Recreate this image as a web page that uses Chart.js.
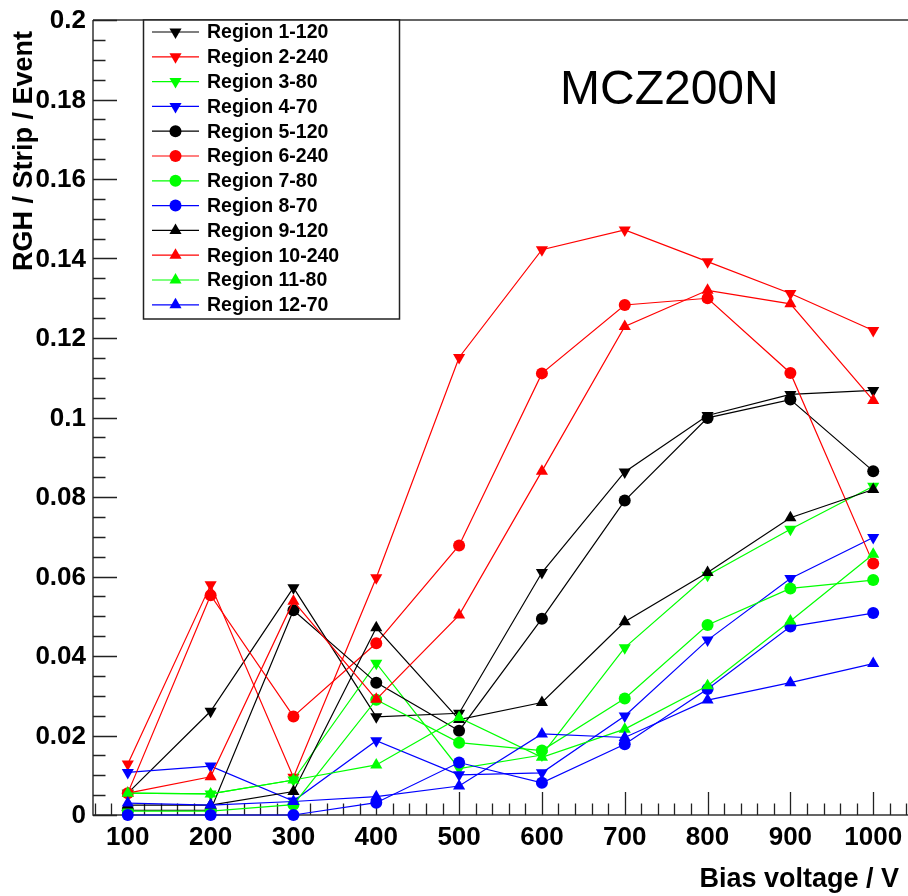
<!DOCTYPE html>
<html>
<head>
<meta charset="utf-8">
<script src="https://cdn.jsdelivr.net/npm/chart.js@4/dist/chart.umd.min.js"></script>
<style>
  html, body { margin: 0; padding: 0; background: #ffffff; }
  #wrap { width: 908px; height: 896px; position: relative; }
</style>
</head>
<body>
<div id="wrap"><canvas id="c" width="908" height="896"></canvas></div>
<script>
// Bias voltage points (V)
const biasVoltages = [100, 200, 300, 400, 500, 600, 700, 800, 900, 1000];

// RGH / Strip / Event for each region
const region1  = [0.0055, 0.0261, 0.0572, 0.0247, 0.0256, 0.0610, 0.0863, 0.1005, 0.1058, 0.1068];
const region2  = [0.0128, 0.0579, 0.0095, 0.0597, 0.1151, 0.1422, 0.1472, 0.1392, 0.1312, 0.1219];
const region3  = [0.0055, 0.0053, 0.0088, 0.0382, 0.0117, 0.0151, 0.0421, 0.0603, 0.0719, 0.0827];
const region4  = [0.0107, 0.0123, 0.0035, 0.0187, 0.0101, 0.0106, 0.0249, 0.0440, 0.0595, 0.0698];
const region5  = [0.0012, 0.0012, 0.0515, 0.0333, 0.0212, 0.0494, 0.0791, 0.0999, 0.1045, 0.0865];
const region6  = [0.0055, 0.0553, 0.0248, 0.0432, 0.0678, 0.1111, 0.1283, 0.1300, 0.1112, 0.0633];
const region7  = [0.0010, 0.0010, 0.0026, 0.0290, 0.0182, 0.0162, 0.0293, 0.0478, 0.0570, 0.0591];
const region8  = [0.0000, 0.0000, 0.0000, 0.0031, 0.0132, 0.0081, 0.0178, 0.0317, 0.0474, 0.0508];
const region9  = [0.0025, 0.0025, 0.0059, 0.0471, 0.0240, 0.0283, 0.0486, 0.0610, 0.0748, 0.0819];
const region10 = [0.0055, 0.0096, 0.0538, 0.0291, 0.0503, 0.0865, 0.1229, 0.1320, 0.1286, 0.1043];
const region11 = [0.0055, 0.0053, 0.0088, 0.0126, 0.0245, 0.0145, 0.0216, 0.0325, 0.0488, 0.0656];
const region12 = [0.0030, 0.0025, 0.0034, 0.0046, 0.0073, 0.0204, 0.0195, 0.0289, 0.0333, 0.0381];

const seriesNames = ["Region 1-120", "Region 2-240", "Region 3-80", "Region 4-70",
                     "Region 5-120", "Region 6-240", "Region 7-80", "Region 8-70",
                     "Region 9-120", "Region 10-240", "Region 11-80", "Region 12-70"];
const seriesValues = [region1, region2, region3, region4, region5, region6,
                      region7, region8, region9, region10, region11, region12];

// Axis tick labels
const xTickLabels = ["100", "200", "300", "400", "500", "600", "700", "800", "900", "1000"];
const yTickLabels = ["0", "0.02", "0.04", "0.06", "0.08", "0.1", "0.12", "0.14", "0.16", "0.18", "0.2"];

const xTitle = "Bias voltage / V";
const yTitle = "RGH / Strip / Event";
const sampleName = "MCZ200N";

// Styling: colour cycles black/red/green/blue, marker cycles down-triangle/circle/up-triangle
const palette = ["#000000", "#ff0000", "#00ff00", "#0000ff"];
function markerFor(i) {
  const g = Math.floor(i / 4);
  if (g === 0) return { style: "triangle", rot: 180, r: 7 };
  if (g === 1) return { style: "circle", rot: 0, r: 6 };
  return { style: "triangle", rot: 0, r: 7 };
}

const datasets = seriesValues.map((vals, i) => {
  const m = markerFor(i);
  const col = palette[i % 4];
  return {
    label: seriesNames[i],
    data: vals.map((v, k) => ({ x: biasVoltages[k], y: v })),
    borderColor: col,
    backgroundColor: col,
    borderWidth: 1.2,
    pointStyle: m.style,
    pointRotation: m.rot,
    pointRadius: m.r,
    pointBorderWidth: 0,
    pointBackgroundColor: col,
    pointBorderColor: col,
    tension: 0,
    clip: false,
    order: seriesValues.length - i
  };
});

const FONT = "'Liberation Sans', Arial, sans-serif";

// Frame, inward tick marks, tick labels, titles and the boxed legend
const framePlugin = {
  id: "frame",
  beforeDatasetsDraw(chart) {
    const ctx = chart.ctx;
    const a = chart.chartArea;
    const xs = chart.scales.x, ys = chart.scales.y;
    ctx.save();
    ctx.strokeStyle = "#333333";
    ctx.lineWidth = 1.5;
    ctx.beginPath();
    ctx.moveTo(a.left, a.top); ctx.lineTo(a.left, a.bottom); ctx.lineTo(a.right, a.bottom);
    ctx.moveTo(a.left, a.top); ctx.lineTo(a.right, a.top);
    ctx.stroke();

    ctx.lineWidth = 1.3;
    ctx.strokeStyle = "#222222";
    ctx.beginPath();
    // x minor ticks every 20 V, major every 100 V
    for (let v = 60; v <= xs.max; v += 20) {
      const px = Math.round(xs.getPixelForValue(v)) + 0.5;
      const major = v % 100 === 0;
      ctx.moveTo(px, a.bottom);
      ctx.lineTo(px, a.bottom - (major ? 23 : 11.5));
    }
    // y minor ticks every 0.005, major every 0.02
    for (let k = 0; k <= 40; k++) {
      const v = k * 0.005;
      const py = Math.round(ys.getPixelForValue(v)) + 0.5;
      const major = k % 4 === 0;
      ctx.moveTo(a.left, py);
      ctx.lineTo(a.left + (major ? 24 : 12.5), py);
    }
    ctx.stroke();

    // tick labels
    ctx.fillStyle = "#000000";
    ctx.font = "bold 26px " + FONT;
    ctx.textAlign = "center";
    ctx.textBaseline = "alphabetic";
    xs.ticks.forEach((t, i) => {
      ctx.fillText(xTickLabels[i], xs.getPixelForValue(t.value), 845);
    });
    ctx.textAlign = "right";
    ctx.textBaseline = "middle";
    ys.ticks.forEach((t, i) => {
      ctx.fillText(yTickLabels[i], 86, ys.getPixelForValue(t.value) + 1);
    });

    // axis titles
    ctx.font = "bold 27px " + FONT;
    ctx.textAlign = "right";
    ctx.textBaseline = "alphabetic";
    ctx.fillText(xTitle, 899, 887);
    ctx.save();
    ctx.translate(32, 31);
    ctx.rotate(-Math.PI / 2);
    ctx.textAlign = "right";
    ctx.fillText(yTitle, 0, 0);
    ctx.restore();

    // sample name
    ctx.font = "48px " + FONT;
    ctx.textAlign = "left";
    ctx.fillText(sampleName, 560, 104);
    ctx.restore();
  },
  afterDraw(chart) {
    const ctx = chart.ctx;
    const box = { l: 143.5, t: 20, r: 399.5, b: 319 };
    ctx.save();
    ctx.fillStyle = "#ffffff";
    ctx.fillRect(box.l, box.t, box.r - box.l, box.b - box.t);
    ctx.strokeStyle = "#222222";
    ctx.lineWidth = 1.5;
    ctx.strokeRect(box.l, box.t, box.r - box.l, box.b - box.t);
    ctx.font = "bold 19.5px " + FONT;
    ctx.textAlign = "left";
    ctx.textBaseline = "middle";
    chart.data.datasets.forEach((ds, i) => {
      const cy = 32 + i * 24.8;
      ctx.strokeStyle = ds.borderColor;
      ctx.lineWidth = 1.2;
      ctx.beginPath();
      ctx.moveTo(152, cy); ctx.lineTo(199, cy);
      ctx.stroke();
      ctx.fillStyle = ds.pointBackgroundColor;
      Chart.helpers.drawPoint(ctx, {
        pointStyle: ds.pointStyle,
        rotation: ds.pointRotation,
        radius: ds.pointRadius,
        borderWidth: 0
      }, 175.5, cy);
      ctx.fillStyle = "#000000";
      ctx.fillText(ds.label, 207, cy + 1);
    });
    ctx.restore();
  }
};

new Chart(document.getElementById("c"), {
  type: "line",
  data: { datasets },
  options: {
    responsive: false,
    animation: false,
    devicePixelRatio: 1,
    layout: { autoPadding: false, padding: { left: 93, right: 0, top: 20, bottom: 81 } },
    plugins: { legend: { display: false }, tooltip: { enabled: false } },
    scales: {
      x: {
        type: "linear", min: 58, max: 1042, display: false,
        afterBuildTicks(scale) { scale.ticks = xTickLabels.map(s => ({ value: Number(s) })); }
      },
      y: {
        type: "linear", min: 0, max: 0.2, display: false,
        afterBuildTicks(scale) { scale.ticks = yTickLabels.map(s => ({ value: Number(s) })); }
      }
    }
  },
  plugins: [framePlugin]
});
</script>
</body>
</html>
